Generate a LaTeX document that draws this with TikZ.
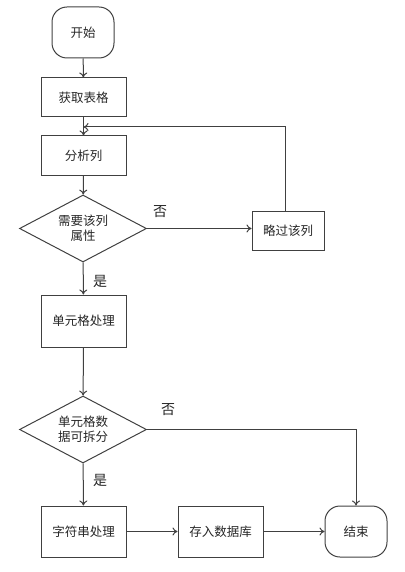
\documentclass[tikz,border=0pt]{standalone}
\usepackage{fontspec}
\newfontfamily\cjk{Noto Sans CJK SC}
\usetikzlibrary{shapes.geometric,arrows.meta}

\begin{document}
\begin{tikzpicture}[x=1pt,y=-1pt,
    line width=1pt, draw=black!75, >={To[length=5pt,width=8pt]},
    every node/.style={font=\cjk\fontsize{12.5}{15}\selectfont, text=black!85},
    box/.style={draw, rectangle, minimum width=85pt, minimum height=39pt},
    term/.style={draw, rectangle, rounded corners=15pt, minimum width=62pt, minimum height=51pt},
    test/.style={draw, diamond, aspect=1.9, inner sep=0pt, align=center,
      minimum width=127pt, minimum height=67pt},
    yn/.style={font=\cjk\fontsize{14}{16}\selectfont}]
    \useasboundingbox (0,0) rectangle (404,572);

    \node[term] (a) at (83,32.5) {开始};
    \node[box] (b) at (83.5,97.5) {获取表格};
    \node[box] (c) at (83.5,155.5) {分析列};
    \node[test] (d) at (83,228.5) {需要该列\\属性};
    \node[box, minimum width=72pt] (e) at (288,230.5) {略过该列};
    \node[box, minimum height=52pt] (f) at (83.5,321) {单元格处理};
    \node[test] (g) at (83,429.5) {单元格数\\据可拆分};
    \node[box, minimum height=51pt] (h) at (83.5,531.5) {字符串处理};
    \node[box, minimum height=51pt] (i) at (220.5,531.5) {存入数据库};
    \node[term] (j) at (356,531.5) {结束};
    \coordinate (m) at (83.5,127);

    \node[yn] (n1) at (160,212) {否};
    \node[yn] (y1) at (100,281) {是};
    \node[yn] (n2) at (168,410) {否};
    \node[yn] (y2) at (100,480) {是};

    \draw[->] (a) -- (b);
    \draw[->] (b) -- (c);
    \draw[->] (c) -- (d);
    \draw[->] (d.east) -- (d.east -| e.west);
    \draw[->] (e.north -| 285,0) |- (m);
    \draw[->] (d) -- (f);
    \draw[->] (f) -- (g);
    \draw[->] (g.east) -| (j.north);
    \draw[->] (g) -- (h);
    \draw[->] (h) -- (i);
    \draw[->] (i) -- (j);
  \end{tikzpicture}
\end{document}
